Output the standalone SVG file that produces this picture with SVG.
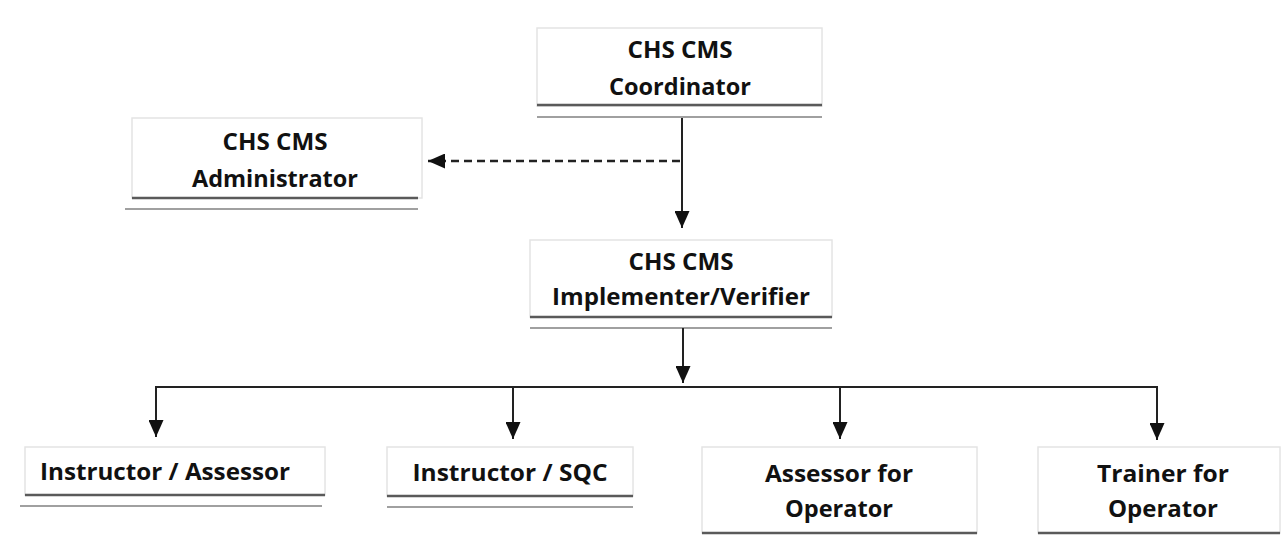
<svg xmlns="http://www.w3.org/2000/svg" width="1288" height="543" viewBox="0 0 1288 543">
<defs>
<style>
.box{fill:#fff;stroke:#e4e4e4;stroke-width:1.5}
.b1{stroke:#5a5a5a;stroke-width:2.5}
.b2{stroke:#a0a0a0;stroke-width:2}
.t{font-family:"Open Sans",Lato,"Liberation Sans",sans-serif;font-weight:bold;font-size:23px;fill:#111;text-anchor:middle}
.c{stroke:#222;stroke-width:2;fill:none}
.d{stroke:#222;stroke-width:2.5;fill:none;stroke-dasharray:8,5}
</style>
<marker id="ah2" viewBox="0 0 10 10" refX="10" refY="5" markerWidth="17" markerHeight="15" markerUnits="userSpaceOnUse" orient="auto" preserveAspectRatio="none">
<path d="M0,0 L10,5 L0,10 Z" fill="#111"/>
</marker>
</defs>
<rect width="1288" height="543" fill="#fff"/>

<g id="coordinator">
<rect class="box" x="537" y="28" width="285" height="78"/>
<line class="b1" x1="537" y1="105" x2="822" y2="105"/>
<line class="b2" x1="537" y1="117" x2="822" y2="117"/>
<text class="t" x="680" y="58" textLength="105" lengthAdjust="spacingAndGlyphs">CHS CMS</text>
<text class="t" x="680" y="95" textLength="142" lengthAdjust="spacingAndGlyphs">Coordinator</text>
</g>

<g id="administrator">
<rect class="box" x="132" y="118" width="290" height="80"/>
<line class="b1" x1="132" y1="198" x2="418" y2="198"/>
<line class="b2" x1="125" y1="209" x2="418" y2="209"/>
<text class="t" x="275" y="150" textLength="105" lengthAdjust="spacingAndGlyphs">CHS CMS</text>
<text class="t" x="275" y="187" textLength="166" lengthAdjust="spacingAndGlyphs">Administrator</text>
</g>

<g id="implementer">
<rect class="box" x="530" y="240" width="302" height="77"/>
<line class="b1" x1="530" y1="317" x2="832" y2="317"/>
<line class="b2" x1="530" y1="328" x2="832" y2="328"/>
<text class="t" x="681" y="270" textLength="105" lengthAdjust="spacingAndGlyphs">CHS CMS</text>
<text class="t" x="681" y="305" textLength="258" lengthAdjust="spacingAndGlyphs">Implementer/Verifier</text>
</g>

<g id="instructor-assessor">
<rect class="box" x="25" y="447" width="300" height="48"/>
<line class="b1" x1="25" y1="495" x2="325" y2="495"/>
<line class="b2" x1="20" y1="506" x2="322" y2="506"/>
<text class="t" x="165" y="480" textLength="250" lengthAdjust="spacingAndGlyphs">Instructor / Assessor</text>
</g>

<g id="instructor-sqc">
<rect class="box" x="387" y="447" width="246" height="49"/>
<line class="b1" x1="387" y1="496" x2="633" y2="496"/>
<line class="b2" x1="387" y1="507" x2="633" y2="507"/>
<text class="t" x="510" y="481" textLength="195" lengthAdjust="spacingAndGlyphs">Instructor / SQC</text>
</g>

<g id="assessor-operator">
<rect class="box" x="702" y="447" width="275" height="86"/>
<line class="b1" x1="702" y1="533" x2="977" y2="533"/>
<text class="t" x="839" y="482" textLength="148" lengthAdjust="spacingAndGlyphs">Assessor for</text>
<text class="t" x="839" y="517" textLength="108" lengthAdjust="spacingAndGlyphs">Operator</text>
</g>

<g id="trainer-operator">
<rect class="box" x="1038" y="447" width="242" height="86"/>
<line class="b1" x1="1038" y1="533" x2="1280" y2="533"/>
<text class="t" x="1163" y="482" textLength="132" lengthAdjust="spacingAndGlyphs">Trainer for</text>
<text class="t" x="1163" y="517" textLength="110" lengthAdjust="spacingAndGlyphs">Operator</text>
</g>

<g id="connectors">
<line class="c" x1="682" y1="118" x2="682" y2="228" marker-end="url(#ah2)"/>
<line class="d" x1="680" y1="161" x2="428" y2="161" marker-end="url(#ah2)"/>
<line class="c" x1="683" y1="328" x2="683" y2="383" marker-end="url(#ah2)"/>
<polyline class="c" points="156,436 156,387 1157,387 1157,438"/>
<line class="c" x1="156" y1="420" x2="156" y2="437" marker-end="url(#ah2)"/>
<line class="c" x1="513" y1="387" x2="513" y2="439" marker-end="url(#ah2)"/>
<line class="c" x1="840" y1="387" x2="840" y2="439" marker-end="url(#ah2)"/>
<line class="c" x1="1157" y1="420" x2="1157" y2="440" marker-end="url(#ah2)"/>
</g>
</svg>
